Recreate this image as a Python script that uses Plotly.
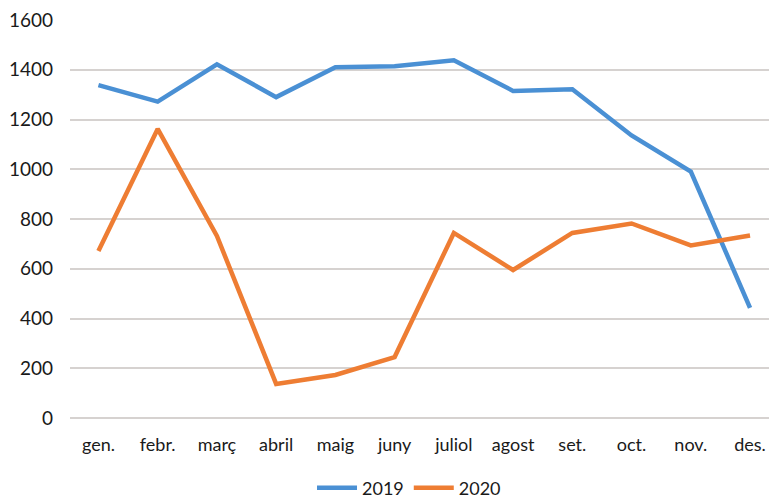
import plotly.graph_objects as go

months = ["gen.", "febr.", "març", "abril", "maig", "juny", "juliol", "agost", "set.", "oct.", "nov.", "des."]
v2019 = [1338, 1272, 1422, 1290, 1410, 1414, 1438, 1315, 1322, 1136, 991, 443]
v2020 = [671, 1162, 732, 137, 173, 245, 744, 595, 744, 782, 694, 734]
yticks = [0, 200, 400, 600, 800, 1000, 1200, 1400, 1600]

fig = go.Figure()
fig.add_trace(go.Scatter(x=months, y=v2019, mode="lines", name="2019",
                         line=dict(color="#4A90D4", width=4.5)))
fig.add_trace(go.Scatter(x=months, y=v2020, mode="lines", name="2020",
                         line=dict(color="#EE7D33", width=4.5)))

fig.update_layout(
    width=769, height=498,
    margin=dict(l=70, r=0, t=20, b=80, autoexpand=False),
    paper_bgcolor="white", plot_bgcolor="white",
    font=dict(family="Lato, Open Sans, sans-serif", size=18, color="#1a1a1a"),
    legend=dict(orientation="h", x=0.485, xanchor="center", yref="container", y=0.02,
                yanchor="middle", font=dict(size=18), itemwidth=40, tracegroupgap=0,
                bgcolor="rgba(0,0,0,0)"),
    showlegend=True,
)
fig.update_xaxes(range=[-0.48, 11.32], showgrid=False, showline=False, ticks="",
                 automargin=False, tickfont=dict(size=18), ticklabelstandoff=14)
fig.update_yaxes(range=[0, 1600], tickvals=yticks, showgrid=True, gridcolor="#D6D2D0",
                 gridwidth=1.5, zeroline=True, zerolinecolor="#D6D2D0", zerolinewidth=1.5,
                 automargin=False, showline=False, ticks="", tickfont=dict(size=19),
                 ticklabelstandoff=16)

fig.write_html("out.html", config={"displayModeBar": False},
               post_script="document.body.style.margin='0px';document.body.style.overflow='hidden';")
